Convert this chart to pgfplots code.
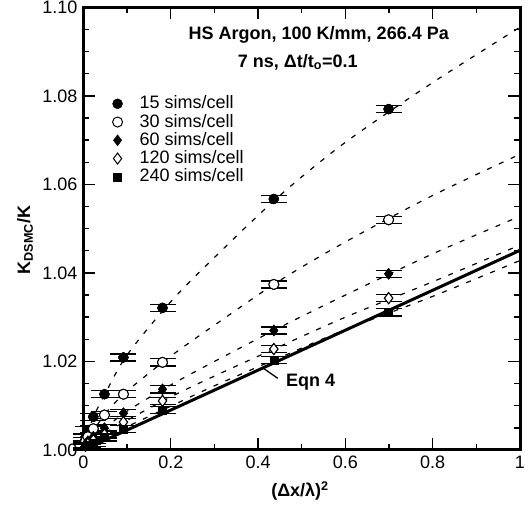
\documentclass[border=0pt]{standalone}
\usepackage{pgfplots}
\pgfplotsset{compat=1.18}
\usepackage{fontspec}
\setmainfont{Liberation Sans}
\pgfplotstableread{
x y
0.005 1.0028
0.01 1.0045
0.0225 1.0075
0.048 1.0126
0.0915 1.0209
0.181 1.0321
0.436 1.0567
0.699 1.0770
}\sA
\pgfplotstableread{
x y
0.005 1.0020
0.01 1.0030
0.0225 1.0048
0.048 1.0079
0.0915 1.0126
0.181 1.0198
0.436 1.0374
0.699 1.0520
}\sB
\pgfplotstableread{
x y
0.005 1.0014
0.01 1.0020
0.0225 1.0030
0.048 1.0049
0.0915 1.0083
0.181 1.0137
0.436 1.0270
0.699 1.0398
}\sC
\pgfplotstableread{
x y
0.005 1.0010
0.01 1.0014
0.0225 1.0022
0.048 1.0035
0.0915 1.0063
0.181 1.0111
0.436 1.0228
0.699 1.0343
}\sD
\pgfplotstableread{
x y
0.005 1.0008
0.01 1.0010
0.0225 1.0016
0.048 1.0028
0.0915 1.0048
0.181 1.0090
0.436 1.0203
0.699 1.0311
}\sE
\begin{document}
\fontsize{18}{21}\selectfont
\begin{tikzpicture}
\useasboundingbox (-83.5pt,-55pt) rectangle (447.5pt,450pt);
\begin{axis}[
  scale only axis, width=436.5pt, height=442.7pt,
  xmin=0, xmax=1, ymin=1.0, ymax=1.1,
  xtick={0,0.2,0.4,0.6,0.8,1}, minor x tick num=1,
  ytick={1,1.02,1.04,1.06,1.08,1.1}, minor y tick num=3,
  yticklabel style={/pgf/number format/.cd, fixed, fixed zerofill, precision=2},
  /pgf/number format/assume math mode=true,
  tick label style={font=\fontsize{18}{21}\selectfont},
  tick align=inside,
  major tick length=12pt, minor tick length=6pt,
  every tick/.style={black, line width=1.4pt},
  axis line style={line width=3pt},
  xlabel={\textbf{(Δx/λ)\textsuperscript{2}}},
  ylabel={\textbf{K\textsubscript{DSMC}/K}},
  xlabel style={at={(axis description cs:0.496,-0.093)}, anchor=center},
  ylabel style={at={(axis description cs:-0.134,0.474)}, anchor=center},
  clip=false,
  legend style={at={(axis cs:0.057,1.0807)}, anchor=north west, draw=none, fill=none,
    font=\fontsize{18}{20}\selectfont, row sep=0.5pt, nodes={inner sep=1pt}},
  legend cell align=left,
  legend image code/.code={%
    \path[draw=none, fill=none] (0pt,0pt) -- (27pt,0pt);
    \draw[#1, only marks] plot coordinates {(6pt,0pt)};},
  every axis plot/.append style={black},
  error bars/y dir=both, error bars/y fixed=0.0008,
  error bars/error bar style={line width=1.3pt},
  error bars/error mark options={rotate=90, mark size=13pt, line width=1.3pt},
  opencirc/.style={mark=*, mark size=5pt, mark options={fill=white, draw=black, line width=1pt}},
  opendiam/.style={mark=diamond*, mark size=5.5pt, mark options={fill=white, draw=black, line width=1pt}},
]
% fitted dashed curves
\addplot[forget plot, smooth, line width=1.2pt, dash pattern=on 5pt off 8pt, no marks, error bars/y dir=none] coordinates {
(0,1.0005) (0.02,1.0068) (0.05,1.0128) (0.1,1.0215) (0.2,1.0335) (0.3,1.0435) (0.45,1.0575) (0.6,1.0695) (0.8,1.083) (1,1.0955)};
\addplot[forget plot, smooth, line width=1.2pt, dash pattern=on 5pt off 8pt, no marks, error bars/y dir=none] coordinates {
(0,1.001) (0.05,1.0082) (0.1,1.0133) (0.2,1.0212) (0.3,1.0282) (0.45,1.0383) (0.6,1.047) (0.8,1.0575) (1,1.0668)};
\addplot[forget plot, smooth, line width=1.2pt, dash pattern=on 5pt off 8pt, no marks, error bars/y dir=none] coordinates {
(0,1.001) (0.05,1.0050) (0.1,1.0088) (0.2,1.0147) (0.3,1.0200) (0.45,1.0277) (0.6,1.0350) (0.8,1.0443) (1,1.0528)};
\addplot[forget plot, smooth, line width=1.2pt, dash pattern=on 5pt off 8pt, no marks, error bars/y dir=none] coordinates {
(0,1.001) (0.1,1.0067) (0.2,1.0120) (0.3,1.0167) (0.45,1.0234) (0.6,1.0300) (0.8,1.038) (1,1.0463)};
\addplot[forget plot, smooth, line width=1.2pt, dash pattern=on 5pt off 8pt, no marks, error bars/y dir=none] coordinates {
(0,1.001) (0.1,1.0053) (0.2,1.0099) (0.3,1.0145) (0.45,1.0209) (0.6,1.0272) (0.8,1.0347) (1,1.0428)};
% Eqn 4
\addplot[forget plot, line width=3pt, no marks, error bars/y dir=none] coordinates {(0,1.0) (1,1.0451)};
% data with error bars
\addplot[only marks, mark=*, mark size=5pt] table {\sA};
\addlegendentry{15 sims/cell}
\addplot[only marks, opencirc] table {\sB};
\addlegendentry{30 sims/cell}
\addplot[only marks, mark=diamond*, mark size=5.5pt] table {\sC};
\addlegendentry{60 sims/cell}
\addplot[only marks, opendiam] table {\sD};
\addlegendentry{120 sims/cell}
\addplot[only marks, mark=square*, mark size=4pt] table {\sE};
\addlegendentry{240 sims/cell}
% markers again on top of the error bars
\addplot[forget plot, only marks, mark=*, mark size=5pt, error bars/y dir=none] table {\sA};
\addplot[forget plot, only marks, opencirc, error bars/y dir=none] table {\sB};
\addplot[forget plot, only marks, mark=diamond*, mark size=5.5pt, error bars/y dir=none] table {\sC};
\addplot[forget plot, only marks, opendiam, error bars/y dir=none] table {\sD};
\addplot[forget plot, only marks, mark=square*, mark size=4pt, error bars/y dir=none] table {\sE};
\node[font=\bfseries] at (axis cs:0.539,1.0937) {HS Argon, 100 K/mm, 266.4 Pa};
\node[font=\bfseries] at (axis cs:0.491,1.0876) {7 ns, Δt/t\textsubscript{o}=0.1};
\draw[line width=1.3pt] (axis cs:0.41,1.0186) -- (axis cs:0.445,1.0162);
\node[font=\bfseries, anchor=west] at (axis cs:0.45,1.0153) {Eqn 4};
\end{axis}
\end{tikzpicture}
\end{document}
